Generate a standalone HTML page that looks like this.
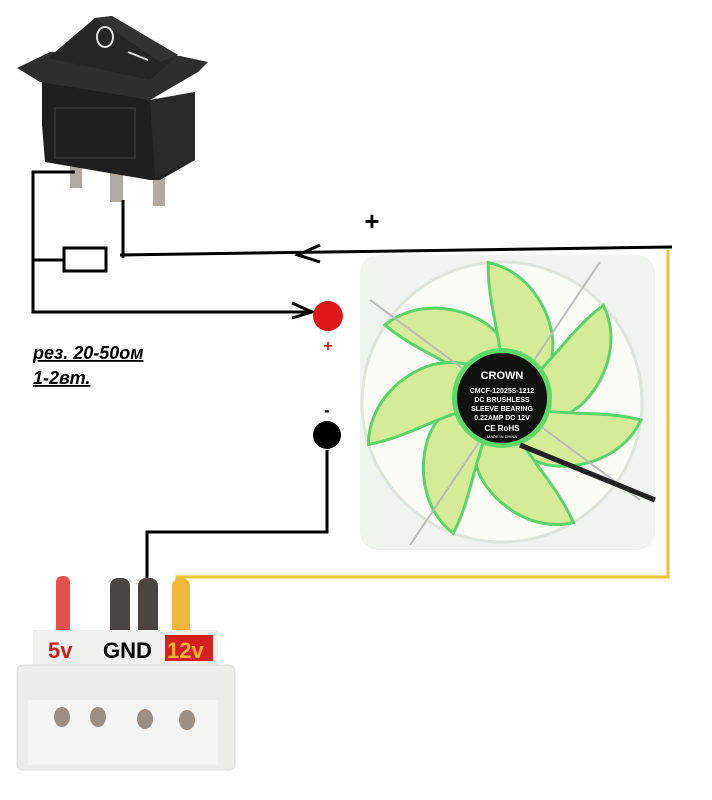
<!DOCTYPE html>
<html><head><meta charset="utf-8"><style>body{margin:0;background:#fff}svg{display:block}</style></head><body>
<svg width="712" height="800" viewBox="0 0 712 800" xmlns="http://www.w3.org/2000/svg" font-family="Liberation Sans, sans-serif">
<rect width="712" height="800" fill="#fff"/>
<!-- switch -->
<rect x="70" y="160" width="12" height="28" fill="#b0aaa5"/>
<rect x="110" y="170" width="13" height="32" fill="#b0aaa5"/>
<rect x="153" y="178" width="12" height="28" fill="#b0aaa5"/>
<polygon points="42,80 150,100 195,92 195,160 160,180 150,180 45,162 42,125" fill="#1f1f1f"/>
<polygon points="150,100 195,92 195,160 155,178" fill="#2a2a2a"/>
<rect x="55" y="108" width="80" height="50" fill="none" stroke="#3a3a3a" stroke-width="1.5"/>
<polygon points="17,68 50,52 180,56 208,62 198,72 150,100 40,82" fill="#2e2e2e"/>
<polygon points="48,58 95,18 112,16 178,55 150,80" fill="#262626"/>
<polygon points="95,18 112,16 178,55 160,62" fill="#333"/>
<ellipse cx="105" cy="37" rx="8" ry="10" fill="none" stroke="#ddd" stroke-width="2"/>
<line x1="128" y1="52" x2="148" y2="60" stroke="#ddd" stroke-width="2"/>
<!-- fan -->
<rect x="360" y="255" width="295" height="295" rx="18" fill="#f0f3f0"/>
<circle cx="502" cy="402" r="140" fill="#fafcf5" stroke="#dfe5dc" stroke-width="3"/>
<g fill="#d4ec98" stroke="#5cd36a" stroke-width="3">
<g id="b"><path d="M502,402 C465,365 420,355 385,325 C415,300 460,305 488,325 C512,345 522,372 515,398 Z"/></g>
<use href="#b" transform="rotate(51 502 402)"/><use href="#b" transform="rotate(103 502 402)"/><use href="#b" transform="rotate(154 502 402)"/><use href="#b" transform="rotate(206 502 402)"/><use href="#b" transform="rotate(257 502 402)"/><use href="#b" transform="rotate(309 502 402)"/>
</g>
<line x1="370" y1="300" x2="640" y2="500" stroke="#bbb" stroke-width="2"/>
<line x1="600" y1="262" x2="410" y2="545" stroke="#bbb" stroke-width="2"/>
<circle cx="502" cy="398" r="50" fill="#5fd86a"/>
<circle cx="502" cy="398" r="45" fill="#111"/>
<text x="502" y="379" fill="#fff" font-size="11" font-weight="bold" text-anchor="middle">CROWN</text>
<text x="502" y="393" fill="#fff" font-size="7" font-weight="bold" text-anchor="middle">CMCF-12025S-1212</text>
<text x="502" y="402" fill="#fff" font-size="7" font-weight="bold" text-anchor="middle">DC BRUSHLESS</text>
<text x="502" y="411" fill="#fff" font-size="7" font-weight="bold" text-anchor="middle">SLEEVE BEARING</text>
<text x="502" y="420" fill="#fff" font-size="7" font-weight="bold" text-anchor="middle">0.22AMP DC 12V</text>
<text x="502" y="431" fill="#fff" font-size="8" font-weight="bold" text-anchor="middle">CE RoHS</text>
<text x="502" y="438" fill="#fff" font-size="4" text-anchor="middle">MADE IN CHINA</text>
<line x1="520" y1="445" x2="655" y2="500" stroke="#222" stroke-width="5"/>
<!-- wires -->
<polyline points="668,250 668,577 177,577 177,592" fill="none" stroke="#e9c43a" stroke-width="3"/>
<line x1="120" y1="255" x2="672" y2="247" stroke="#000" stroke-width="3"/>
<polyline points="320,245 298,255 320,262" fill="none" stroke="#000" stroke-width="3"/>
<polyline points="75,172 33,172 33,312 310,312" fill="none" stroke="#000" stroke-width="3"/>
<polyline points="292,303 312,312 292,318" fill="none" stroke="#000" stroke-width="3"/>
<line x1="33" y1="260" x2="63" y2="260" stroke="#000" stroke-width="3"/>
<rect x="64" y="248" width="42" height="23" fill="#fff" stroke="#000" stroke-width="3"/>
<line x1="123" y1="200" x2="123" y2="258" stroke="#000" stroke-width="3"/>
<circle cx="328" cy="316" r="15" fill="#e01818"/>
<text x="328" y="351" fill="#d22" font-size="16" font-weight="bold" text-anchor="middle">+</text>
<text x="372" y="230" fill="#000" font-size="26" font-weight="bold" text-anchor="middle">+</text>
<circle cx="327" cy="435" r="14" fill="#000"/>
<text x="327" y="416" fill="#000" font-size="18" font-weight="bold" text-anchor="middle">-</text>
<polyline points="327,450 327,532 147,532 147,578" fill="none" stroke="#000" stroke-width="3"/>
<text x="33" y="359" fill="#000" font-size="18" font-weight="bold" font-style="italic" text-decoration="underline">рез. 20-50ом</text>
<text x="33" y="384" fill="#000" font-size="18" font-weight="bold" font-style="italic" text-decoration="underline">1-2вт.</text>
<!-- molex -->
<rect x="56" y="576" width="14" height="60" rx="6" fill="#e85050"/>
<rect x="110" y="578" width="20" height="60" rx="8" fill="#4a4442"/>
<rect x="138" y="578" width="20" height="60" rx="8" fill="#4a4442"/>
<rect x="172" y="578" width="18" height="60" rx="8" fill="#f0b83a"/>
<rect x="33" y="630" width="185" height="35" fill="#f0f0ee"/>
<rect x="165" y="635" width="48" height="26" fill="#d42020"/>
<text x="48" y="658" fill="#c42020" font-size="22" font-weight="bold">5v</text>
<text x="103" y="658" fill="#000" font-size="22" font-weight="bold">GND</text>
<text x="167" y="658" fill="#f5b030" font-size="22" font-weight="bold">12v</text>
<rect x="17" y="665" width="218" height="105" rx="6" fill="#ececea" stroke="#ddd"/>
<rect x="28" y="700" width="190" height="65" fill="#f4f4f2"/>
<g fill="#9a8f86"><ellipse cx="62" cy="717" rx="8" ry="10"/><ellipse cx="98" cy="717" rx="8" ry="10"/><ellipse cx="145" cy="719" rx="8" ry="10"/><ellipse cx="187" cy="720" rx="8" ry="10"/></g>
</svg>
</body></html>
